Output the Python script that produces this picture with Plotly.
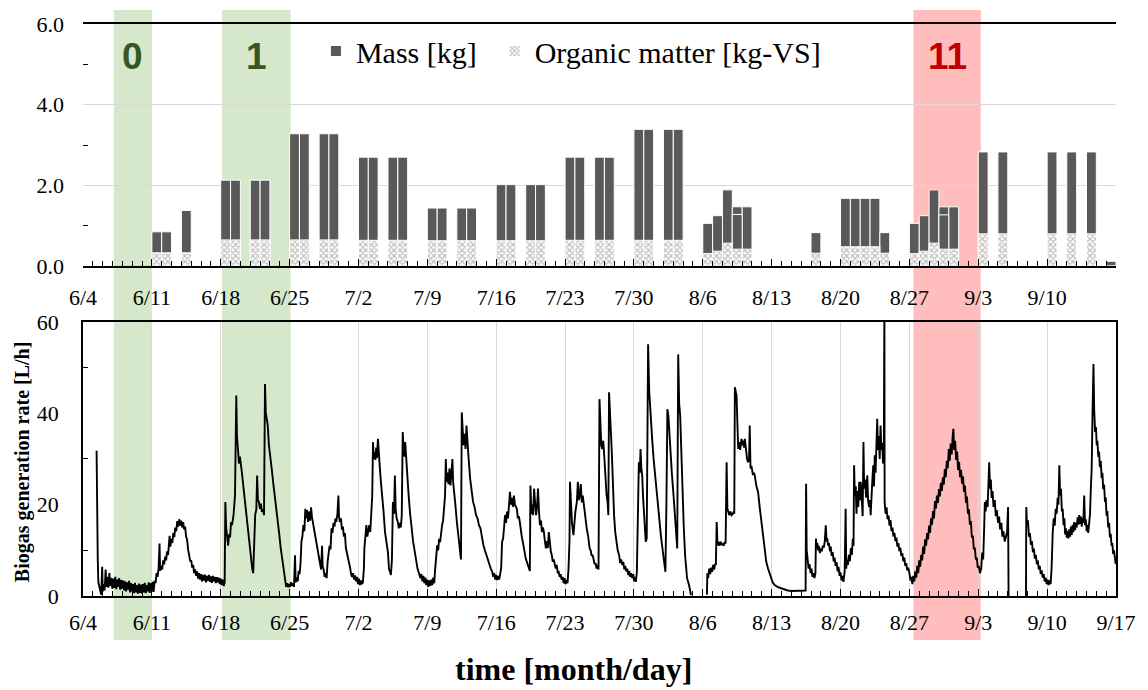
import pandas as pd
import plotly.graph_objects as go

YEAR = 2019
START = pd.Timestamp(f"{YEAR}-06-04")
END = pd.Timestamp(f"{YEAR}-09-17")
DAY_MS = 86400000

# ---------------- tick labels ----------------
week_labels = ["6/4", "6/11", "6/18", "6/25", "7/2", "7/9", "7/16", "7/23",
               "7/30", "8/6", "8/13", "8/20", "8/27", "9/3", "9/10", "9/17"]

# ---------------- top panel: feedstock per day ----------------
feed_dates = ["6/11", "6/12", "6/14", "6/18", "6/19", "6/21", "6/22", "6/25", "6/26",
              "6/28", "6/29", "7/2", "7/3", "7/5", "7/6", "7/9", "7/10", "7/12", "7/13",
              "7/16", "7/17", "7/19", "7/20", "7/23", "7/24", "7/26", "7/27", "7/30",
              "7/31", "8/2", "8/3", "8/6", "8/7", "8/8", "8/9", "8/10", "8/17", "8/20",
              "8/21", "8/22", "8/23", "8/24", "8/27", "8/28", "8/29", "8/30", "8/31",
              "9/3", "9/5", "9/10", "9/12", "9/14", "9/16"]
mass_kg = [0.85, 0.85, 1.38, 2.13, 2.13, 2.13, 2.13, 3.28, 3.28,
           3.28, 3.28, 2.70, 2.70, 2.70, 2.70, 1.44, 1.44, 1.44, 1.44,
           2.02, 2.02, 2.02, 2.02, 2.70, 2.70, 2.70, 2.70, 3.39,
           3.39, 3.39, 3.39, 1.06, 1.25, 1.89, 1.47, 1.47, 0.83, 1.68,
           1.68, 1.68, 1.68, 0.83, 1.06, 1.25, 1.89, 1.47, 1.47,
           2.83, 2.83, 2.83, 2.83, 2.83, 0.12]
organic_kg_vs = [0.33, 0.33, 0.33, 0.65, 0.65, 0.65, 0.65, 0.65, 0.65,
                 0.65, 0.65, 0.64, 0.64, 0.64, 0.64, 0.63, 0.63, 0.63, 0.63,
                 0.63, 0.63, 0.63, 0.63, 0.64, 0.64, 0.64, 0.64, 0.64,
                 0.64, 0.64, 0.64, 0.31, 0.37, 0.57, 0.42, 0.42, 0.32, 0.48,
                 0.48, 0.48, 0.48, 0.32, 0.31, 0.37, 0.57, 0.42, 0.42,
                 0.80, 0.80, 0.80, 0.80, 0.80, 0.0]
# second feeding portion drawn inside two of the bars
split_dates = ["8/9", "8/30"]
split_mass_kg = [1.28, 1.27]

# ---------------- highlighted periods ----------------
band_start = ["6/7 03:00", "6/18 03:00", "8/27 10:00"]
band_end = ["6/11 00:00", "6/25 02:30", "9/3 06:00"]
band_label = ["0", "1", "11"]
band_fill = ["#d5e8cb", "#d5e8cb", "#ffbdbd"]
band_text_color = ["#375623", "#375623", "#c00000"]

# ---------------- bottom panel: biogas rate (day offset from 6/4, L/h) ----------------
rate_jun = [
    (1.38, 31.8), (1.42, 20.0), (1.50, 8.0), (1.56, 3.0), (1.65, 2.2), (1.75, 0.8), (1.85, 0.3),
    (1.95, 6.4), (2.00, 1.0), (2.10, 2.6), (2.20, 1.2), (2.30, 5.8), (2.38, 2.0), (2.48, 4.2),
    (2.58, 1.8), (2.68, 5.0), (2.78, 2.2), (2.88, 4.0), (2.98, 1.6), (3.08, 3.8), (3.18, 1.8),
    (3.28, 4.2), (3.38, 1.5), (3.48, 3.6), (3.58, 2.0), (3.68, 3.9), (3.78, 1.4), (3.88, 3.5),
    (3.98, 1.6), (4.08, 3.4), (4.18, 1.2), (4.28, 3.2), (4.38, 1.0), (4.48, 3.0), (4.58, 1.4),
    (4.68, 3.3), (4.78, 0.8), (4.88, 2.8), (4.98, 1.0), (5.08, 2.6), (5.18, 0.6), (5.28, 2.9),
    (5.38, 0.8), (5.48, 2.4), (5.58, 0.5), (5.68, 2.7), (5.78, 0.7), (5.88, 2.5), (5.98, 0.5),
    (6.08, 2.6), (6.18, 0.8), (6.28, 2.9), (6.38, 0.6), (6.48, 2.4), (6.58, 1.0), (6.68, 3.0),
    (6.78, 0.7), (6.88, 2.8), (6.98, 1.0), (7.08, 3.1), (7.18, 0.9), (7.28, 3.4), (7.38, 2.8),
    (7.48, 5.0), (7.58, 4.2), (7.68, 6.0), (7.78, 11.5), (7.84, 5.5), (7.95, 6.6), (8.05, 5.8),
    (8.15, 7.8), (8.25, 6.9), (8.35, 8.6), (8.45, 7.8), (8.55, 9.8), (8.65, 9.0), (8.75, 11.2),
    (8.80, 13.2), (8.88, 10.8), (8.98, 12.5), (9.08, 11.6), (9.18, 13.8), (9.28, 12.9),
    (9.38, 15.0), (9.48, 14.2), (9.58, 16.4), (9.68, 15.2), (9.78, 16.8), (9.88, 15.4),
    (9.98, 16.5), (10.08, 15.0), (10.18, 16.2), (10.28, 14.6), (10.38, 15.2), (10.48, 13.0),
    (10.58, 12.4), (10.68, 10.2), (10.80, 9.0), (10.90, 7.6), (11.00, 7.8), (11.10, 6.2),
    (11.20, 6.8), (11.30, 5.0), (11.40, 5.8), (11.50, 4.4), (11.60, 5.4), (11.70, 3.8),
    (11.80, 5.0), (11.90, 3.6), (12.00, 4.8), (12.10, 3.2), (12.20, 4.6), (12.30, 3.4),
    (12.40, 4.7), (12.50, 3.0), (12.60, 4.4), (12.70, 3.3), (12.80, 4.6), (12.90, 3.1),
    (13.00, 4.3), (13.10, 2.9), (13.20, 4.4), (13.30, 3.2), (13.40, 4.2), (13.50, 2.8),
    (13.60, 4.1), (13.70, 3.0), (13.80, 4.0), (13.90, 2.6), (14.00, 3.8), (14.10, 2.4),
    (14.20, 3.6), (14.30, 2.2), (14.40, 3.0), (14.47, 20.6), (14.55, 15.0), (14.65, 12.0),
    (14.75, 11.0), (14.85, 13.5), (14.95, 12.8), (15.05, 16.2), (15.15, 15.5), (15.30, 17.7),
    (15.45, 22.0), (15.58, 43.9), (15.65, 35.0), (15.75, 32.2), (15.85, 29.0), (15.95, 30.5),
    (16.05, 28.0), (16.15, 27.0), (16.30, 24.0), (16.45, 21.0), (16.60, 17.0), (16.75, 13.5),
    (16.90, 11.5), (17.05, 8.5), (17.20, 6.0), (17.30, 5.0), (17.40, 12.0), (17.50, 17.7),
    (17.62, 19.0), (17.70, 26.4), (17.78, 21.0), (17.88, 20.6), (17.98, 19.1), (18.08, 20.2),
    (18.18, 18.4), (18.30, 19.0), (18.40, 17.7), (18.50, 46.4), (18.58, 40.2), (18.68, 38.0),
    (18.78, 37.3), (18.90, 33.0), (19.05, 30.8), (19.20, 27.5), (19.35, 24.5), (19.50, 22.0),
    (19.65, 19.0), (19.80, 16.2), (19.95, 13.5), (20.10, 10.4), (20.25, 8.0), (20.40, 5.0),
    (20.55, 3.1), (20.65, 2.0), (20.75, 2.8), (20.85, 1.9), (20.95, 2.6), (21.05, 2.0),
    (21.15, 3.0), (21.25, 2.2), (21.35, 2.8), (21.45, 2.0), (21.55, 8.9), (21.62, 3.0),
    (21.72, 4.0), (21.82, 3.2), (21.92, 5.5), (22.02, 4.8), (22.12, 7.5), (22.20, 11.9),
    (22.30, 13.0), (22.40, 15.5), (22.50, 14.2), (22.60, 19.1), (22.68, 17.0), (22.78, 18.8),
    (22.88, 16.2), (22.98, 18.5), (23.08, 16.5), (23.18, 19.4), (23.28, 17.2), (23.38, 16.0),
    (23.50, 14.0), (23.60, 12.8), (23.70, 12.5), (23.80, 10.4), (23.90, 9.5), (24.00, 8.0),
    (24.10, 6.8), (24.20, 5.8), (24.30, 11.0), (24.36, 6.5), (24.46, 5.8), (24.56, 4.2),
    (24.66, 5.0), (24.76, 3.9), (24.86, 7.4), (24.96, 9.0), (25.06, 11.0), (25.16, 10.2),
    (25.26, 14.8), (25.36, 13.8), (25.46, 16.0), (25.56, 15.2), (25.66, 17.0), (25.76, 16.2),
    (25.86, 18.0), (25.96, 22.0), (26.02, 17.5), (26.12, 16.2), (26.22, 17.0), (26.32, 14.5),
    (26.42, 15.2), (26.52, 13.0), (26.62, 13.8), (26.72, 10.5), (26.82, 9.6), (26.95, 7.8),
    (27.05, 7.2), (27.15, 6.2), (27.25, 4.8), (27.35, 4.2), (27.45, 5.0), (27.55, 3.6),
    (27.65, 4.5), (27.75, 3.2), (27.85, 4.2), (27.95, 2.6), (28.05, 3.8), (28.15, 2.4),
    (28.25, 3.4), (28.35, 2.6),
]
rate_jul = [
    (28.45, 3.0), (28.55, 6.0), (28.60, 10.4), (28.70, 12.5), (28.80, 15.5), (28.90, 13.0),
    (29.00, 14.5), (29.10, 15.5), (29.20, 14.0), (29.30, 18.4), (29.40, 22.0), (29.48, 33.7),
    (29.55, 30.0), (29.65, 31.5), (29.72, 29.8), (29.80, 32.5), (29.88, 30.2), (29.98, 34.4),
    (30.08, 30.0), (30.18, 27.9), (30.28, 25.0), (30.40, 22.5), (30.55, 18.5), (30.70, 14.0),
    (30.85, 11.5), (31.00, 9.5), (31.10, 6.0), (31.30, 4.6), (31.40, 8.0), (31.50, 20.6),
    (31.62, 18.0), (31.70, 26.4), (31.78, 19.1), (31.88, 17.0), (32.00, 16.2), (32.10, 14.8),
    (32.20, 16.0), (32.30, 15.0), (32.40, 17.5), (32.50, 35.9), (32.58, 32.2), (32.68, 30.5),
    (32.75, 33.7), (32.85, 30.0), (32.95, 27.9), (33.10, 22.0), (33.25, 18.0), (33.40, 14.5),
    (33.55, 12.0), (33.70, 10.0), (33.85, 7.5), (34.00, 6.0), (34.15, 5.0), (34.30, 3.9),
    (34.40, 4.8), (34.50, 3.2), (34.60, 4.4), (34.70, 2.8), (34.80, 4.0), (34.90, 2.4),
    (35.00, 3.6), (35.10, 2.0), (35.20, 3.4), (35.30, 2.2), (35.40, 3.6), (35.50, 2.4),
    (35.60, 4.0), (35.70, 2.8), (35.80, 6.0), (35.90, 8.9), (36.00, 11.1), (36.10, 10.0),
    (36.20, 12.5), (36.30, 11.8), (36.40, 14.0), (36.50, 15.5), (36.60, 16.5), (36.70, 19.1),
    (36.80, 22.0), (36.88, 30.0), (36.95, 25.0), (37.05, 27.0), (37.15, 24.5), (37.25, 27.9),
    (37.35, 24.2), (37.45, 27.0), (37.55, 30.0), (37.62, 25.0), (37.72, 22.0), (37.85, 20.0),
    (38.00, 16.2), (38.15, 13.3), (38.30, 9.7), (38.42, 8.0), (38.50, 40.2), (38.58, 35.9),
    (38.68, 33.0), (38.78, 35.5), (38.88, 32.2), (38.98, 37.3), (39.08, 33.0), (39.20, 30.0),
    (39.35, 25.7), (39.50, 23.0), (39.65, 20.6), (39.80, 19.5), (39.95, 17.7), (40.10, 17.0),
    (40.25, 15.5), (40.40, 14.8), (40.55, 12.5), (40.70, 11.1), (40.85, 10.0), (41.00, 8.9),
    (41.15, 8.0), (41.30, 6.8), (41.45, 6.0), (41.60, 5.3), (41.70, 4.2), (41.80, 5.0),
    (41.90, 3.6), (42.00, 4.6), (42.10, 3.5), (42.20, 4.4), (42.30, 3.6), (42.40, 4.8),
    (42.50, 6.0), (42.60, 11.9), (42.70, 12.5), (42.80, 15.0), (42.90, 17.7), (43.00, 16.0),
    (43.10, 18.5), (43.20, 17.0), (43.30, 19.1), (43.40, 22.8), (43.50, 20.0), (43.60, 21.5),
    (43.70, 19.5), (43.80, 22.0), (43.90, 20.0), (44.00, 19.5), (44.10, 19.1), (44.20, 17.0),
    (44.30, 17.5), (44.40, 16.2), (44.50, 14.0), (44.60, 13.0), (44.70, 11.9), (44.80, 10.0),
    (44.90, 9.5), (45.00, 8.2), (45.10, 7.5), (45.20, 6.8), (45.30, 6.0), (45.42, 5.5),
    (45.48, 24.2), (45.58, 18.0), (45.68, 20.0), (45.75, 17.7), (45.85, 23.5), (45.95, 19.0),
    (46.05, 17.7), (46.15, 19.5), (46.25, 23.5), (46.35, 18.5), (46.45, 15.5), (46.55, 16.5),
    (46.65, 14.0), (46.75, 15.0), (46.85, 14.0), (46.95, 12.0), (47.05, 10.4), (47.15, 12.0),
    (47.25, 10.5), (47.35, 14.0), (47.45, 11.5), (47.55, 9.8), (47.65, 9.0), (47.75, 7.5),
    (47.85, 8.0), (47.95, 6.5), (48.05, 6.0), (48.15, 6.8), (48.25, 5.2), (48.35, 5.3),
    (48.45, 4.2), (48.55, 4.8), (48.65, 3.6), (48.75, 4.2), (48.85, 2.8), (48.95, 3.9),
    (49.05, 2.6), (49.15, 3.5), (49.25, 2.8), (49.35, 6.0), (49.45, 12.0), (49.50, 25.0),
    (49.60, 20.6), (49.70, 16.0), (49.85, 13.3), (49.95, 16.0), (50.05, 18.5), (50.20, 20.6),
    (50.30, 25.0), (50.40, 21.0), (50.50, 22.0), (50.60, 24.5), (50.70, 20.5), (50.80, 22.0),
    (50.90, 20.0), (51.00, 18.0), (51.10, 17.0), (51.20, 14.8), (51.35, 13.0), (51.50, 10.4),
    (51.60, 10.0), (51.70, 8.8), (51.80, 9.0), (51.90, 8.2), (52.00, 7.0), (52.10, 7.2),
    (52.20, 6.0), (52.30, 6.8), (52.40, 5.8), (52.50, 43.1), (52.58, 36.0), (52.68, 33.0),
    (52.78, 32.2), (52.88, 34.0), (52.98, 30.8),
]
rate_aug = [
    (53.10, 25.0), (53.22, 22.0), (53.32, 20.6), (53.40, 17.7), (53.47, 44.6), (53.60, 39.5),
    (53.72, 33.0), (53.80, 28.6), (53.90, 22.0), (53.98, 17.7), (54.10, 14.0), (54.20, 11.9),
    (54.35, 10.0), (54.50, 8.9), (54.60, 7.2), (54.70, 8.0), (54.82, 6.8), (54.92, 7.5),
    (55.02, 5.8), (55.12, 6.6), (55.22, 5.4), (55.32, 6.0), (55.42, 4.6), (55.52, 5.5),
    (55.62, 4.2), (55.72, 5.0), (55.82, 3.9), (55.92, 4.8), (56.02, 3.2), (56.12, 4.2),
    (56.20, 3.1), (56.30, 5.3), (56.40, 18.0), (56.50, 29.3), (56.60, 27.0), (56.67, 32.2),
    (56.75, 28.0), (56.84, 26.4), (56.92, 22.0), (57.00, 19.1), (57.10, 15.0), (57.20, 11.9),
    (57.30, 12.6), (57.38, 30.0), (57.44, 55.1), (57.55, 45.0), (57.68, 39.5), (57.85, 34.4),
    (58.00, 30.0), (58.20, 25.0), (58.40, 20.0), (58.55, 17.7), (58.75, 13.0), (58.90, 10.4),
    (59.05, 7.5), (59.20, 5.3), (59.30, 20.0), (59.40, 40.9), (59.50, 39.5), (59.60, 35.0),
    (59.70, 32.2), (59.85, 27.0), (60.00, 22.8), (60.15, 18.0), (60.30, 13.0), (60.40, 10.4),
    (60.50, 52.9), (60.60, 42.0), (60.70, 39.5), (60.80, 32.0), (60.90, 25.0), (61.00, 19.0),
    (61.06, 15.5), (61.20, 8.9), (61.40, 3.9), (61.60, 2.4), (61.80, 0.2),
    (62.60, None),
    (63.42, 0.3), (63.46, 5.0), (63.55, 3.9), (63.65, 6.0), (63.75, 4.8), (63.85, 6.2),
    (63.95, 5.3), (64.05, 6.8), (64.15, 5.8), (64.25, 7.0), (64.33, 6.8), (64.41, 16.2),
    (64.50, 11.1), (64.60, 11.8), (64.70, 11.0), (64.80, 11.9), (64.92, 11.2), (65.02, 11.5),
    (65.12, 11.0), (65.22, 11.8), (65.32, 11.5), (65.42, 29.3), (65.50, 19.1), (65.59, 18.4),
    (65.70, 17.7), (65.80, 18.5), (65.93, 17.7), (66.05, 18.0), (66.15, 18.5), (66.20, 18.0),
    (66.26, 45.7), (66.43, 43.9), (66.52, 36.0), (66.60, 32.2), (66.70, 33.7), (66.80, 32.0),
    (66.93, 34.4), (67.03, 33.0), (67.13, 34.0), (67.20, 32.5), (67.27, 34.4), (67.40, 31.0),
    (67.50, 30.0), (67.60, 29.3), (67.70, 30.0), (67.77, 37.3), (67.85, 27.9), (67.94, 28.5),
    (68.10, 26.5), (68.20, 27.0), (68.28, 26.4), (68.45, 24.0), (68.62, 22.8), (68.78, 19.5),
    (68.95, 16.2), (69.10, 13.0), (69.29, 9.7), (69.45, 7.5), (69.63, 6.0), (69.80, 4.8),
    (69.96, 3.9), (70.10, 3.0), (70.30, 2.4), (70.60, 2.0), (70.97, 1.7), (71.30, 1.4),
    (71.65, 1.2), (72.00, 1.1), (72.50, 1.1), (73.00, 1.1), (73.45, 1.2),
    (73.50, 24.6), (73.56, 10.0), (73.65, 8.2), (73.75, 6.0), (73.85, 7.0), (73.95, 5.0),
    (74.05, 6.0), (74.15, 4.2), (74.25, 5.0), (74.35, 3.9), (74.45, 5.0), (74.50, 12.6),
    (74.56, 10.6), (74.64, 11.6), (74.72, 10.0), (74.80, 11.0), (74.90, 9.4), (75.00, 10.4),
    (75.10, 9.8), (75.20, 11.0), (75.30, 10.6), (75.40, 12.0), (75.50, 15.5), (75.58, 12.0),
    (75.65, 12.6), (75.74, 11.0), (75.83, 11.6), (75.92, 9.8), (76.00, 10.8), (76.10, 8.8),
    (76.20, 9.6), (76.30, 7.6), (76.40, 8.4), (76.50, 6.6), (76.60, 7.4), (76.70, 5.4),
    (76.80, 6.4), (76.90, 4.4), (77.00, 5.2), (77.10, 3.4), (77.20, 4.4), (77.30, 3.1),
    (77.42, 5.5), (77.52, 19.1), (77.58, 6.0), (77.65, 8.0), (77.75, 6.8), (77.85, 9.0),
    (77.95, 7.6), (78.05, 10.5), (78.15, 9.0), (78.25, 12.5), (78.32, 11.0), (78.38, 28.6),
    (78.45, 22.0), (78.55, 24.0), (78.62, 18.0), (78.71, 23.0), (78.80, 19.5), (78.90, 25.0),
    (79.00, 21.0), (79.05, 25.0), (79.15, 19.0), (79.25, 17.5), (79.33, 33.7), (79.40, 23.5),
    (79.50, 25.5), (79.60, 21.5), (79.72, 26.4), (79.80, 21.0), (79.90, 19.5), (80.00, 21.0),
    (80.06, 17.7), (80.15, 20.5), (80.25, 26.0), (80.33, 28.6), (80.40, 24.0), (80.48, 30.8),
    (80.56, 27.0), (80.65, 33.0), (80.73, 38.8), (80.80, 32.0), (80.90, 35.0), (80.98, 30.0),
    (81.07, 37.3), (81.15, 32.0), (81.24, 33.5), (81.32, 29.0), (81.40, 31.0), (81.46, 65.0),
    (81.48, 20.6), (81.58, 18.0), (81.68, 19.4), (81.78, 16.8), (81.88, 17.6), (81.98, 15.4),
    (82.08, 16.6), (82.18, 14.2), (82.28, 15.0), (82.38, 13.0), (82.48, 13.8), (82.58, 12.0),
    (82.68, 12.8), (82.78, 10.8), (82.88, 11.6), (82.98, 9.8), (83.08, 10.6), (83.18, 8.8),
    (83.28, 9.4), (83.38, 7.6), (83.48, 8.4), (83.58, 6.6), (83.68, 7.2), (83.78, 5.6),
    (83.88, 6.2),
]
rate_sep = [
    (84.00, 5.0), (84.10, 3.4), (84.20, 4.2), (84.30, 2.6), (84.40, 4.4), (84.50, 3.2),
    (84.60, 5.4), (84.70, 4.0), (84.80, 6.6), (84.90, 5.0), (85.00, 7.8), (85.10, 6.4),
    (85.20, 9.0), (85.30, 7.8), (85.40, 10.8), (85.50, 9.2), (85.60, 12.4), (85.70, 11.0),
    (85.80, 13.8), (85.90, 12.4), (86.00, 15.4), (86.10, 13.8), (86.20, 17.0), (86.30, 15.6),
    (86.40, 18.6), (86.50, 17.0), (86.60, 20.8), (86.70, 19.2), (86.80, 22.0), (86.90, 20.4),
    (87.00, 23.4), (87.10, 21.8), (87.20, 24.8), (87.30, 23.0), (87.40, 26.0), (87.50, 24.4),
    (87.60, 27.8), (87.70, 26.0), (87.80, 29.6), (87.90, 28.0), (88.00, 32.2), (88.10, 29.6),
    (88.20, 33.4), (88.30, 31.0), (88.40, 35.0), (88.47, 36.6), (88.55, 32.0), (88.65, 34.0),
    (88.75, 29.8), (88.85, 31.6), (88.95, 27.6), (89.05, 29.4), (89.15, 26.0), (89.25, 27.6),
    (89.35, 24.6), (89.45, 26.2), (89.55, 22.8), (89.65, 24.2), (89.75, 20.4), (89.85, 21.8),
    (89.95, 18.0), (90.05, 19.0), (90.15, 15.6), (90.25, 16.4), (90.35, 12.8), (90.45, 13.2),
    (90.55, 10.2), (90.65, 10.6), (90.75, 8.0), (90.85, 8.4), (90.95, 6.2), (91.05, 6.6),
    (91.17, 5.0), (91.30, 6.0), (91.40, 9.5), (91.50, 8.0), (91.60, 15.0), (91.67, 20.6),
    (91.75, 18.5), (91.84, 21.0), (91.95, 19.5), (92.02, 24.0), (92.11, 29.3), (92.20, 23.5),
    (92.28, 25.5), (92.35, 21.5), (92.45, 23.0), (92.55, 19.5), (92.68, 21.0), (92.78, 17.5),
    (92.88, 18.8), (93.02, 16.0), (93.12, 17.4), (93.22, 14.6), (93.35, 16.0), (93.45, 13.0),
    (93.55, 14.2), (93.69, 11.9), (93.80, 13.2), (93.93, 14.0), (94.03, 19.5), (94.08, 0.0),
    (95.00, None),
    (95.85, 0.0), (95.88, 19.5), (95.95, 15.5), (96.05, 16.6), (96.15, 13.0), (96.25, 13.8),
    (96.35, 11.2), (96.45, 12.0), (96.55, 9.6), (96.65, 10.4), (96.75, 8.2), (96.85, 9.0),
    (96.95, 7.0), (97.05, 7.8), (97.15, 5.8), (97.25, 6.6), (97.35, 4.8), (97.45, 5.6),
    (97.55, 4.0), (97.65, 4.8), (97.75, 3.2), (97.85, 4.0), (97.95, 2.6), (98.05, 3.6),
    (98.15, 2.4), (98.25, 3.4), (98.35, 2.6), (98.45, 6.0), (98.57, 14.0), (98.67, 17.0),
    (98.77, 15.4), (98.87, 19.1), (98.97, 18.0), (99.07, 21.5), (99.15, 20.0), (99.24, 28.6),
    (99.32, 22.0), (99.41, 23.5), (99.50, 18.5), (99.58, 19.1), (99.67, 15.5), (99.75, 17.0),
    (99.83, 13.5), (99.91, 14.8), (100.00, 12.8), (100.08, 14.2), (100.17, 12.6), (100.25, 14.6),
    (100.34, 13.0), (100.42, 15.2), (100.50, 13.4), (100.59, 15.6), (100.67, 14.0), (100.75, 16.2),
    (100.84, 14.4), (100.92, 16.0), (101.00, 15.0), (101.10, 17.2), (101.18, 15.6), (101.26, 17.7),
    (101.35, 15.8), (101.45, 17.4), (101.52, 15.2), (101.60, 17.0), (101.68, 16.0), (101.77, 22.0),
    (101.85, 15.5), (101.93, 16.8), (102.02, 14.2), (102.10, 15.6), (102.18, 13.8), (102.27, 15.4),
    (102.36, 18.0), (102.44, 23.5), (102.53, 28.0), (102.61, 39.5), (102.71, 50.8), (102.78, 41.0),
    (102.88, 35.9), (102.96, 37.0), (103.04, 33.0), (103.11, 34.0), (103.20, 30.5), (103.28, 31.6),
    (103.36, 28.2), (103.45, 29.6), (103.54, 25.8), (103.62, 27.0), (103.70, 23.4), (103.79, 24.4),
    (103.88, 20.6), (103.95, 21.6), (104.04, 17.6), (104.12, 18.6), (104.21, 15.0), (104.30, 16.0),
    (104.38, 12.8), (104.46, 13.6), (104.55, 11.0), (104.62, 11.6), (104.71, 9.2), (104.80, 10.0),
    (104.88, 7.8), (104.97, 7.0),
]


def md(s):
    """'6/11' or '6/11 03:00' -> timestamp in YEAR"""
    parts = s.split(" ")
    m, d = parts[0].split("/")
    t = parts[1] if len(parts) > 1 else "00:00"
    return pd.Timestamp(f"{YEAR}-{int(m):02d}-{int(d):02d} {t}")


HALF_DAY = pd.Timedelta(hours=12)
bar_x = [md(s) + HALF_DAY for s in feed_dates]
split_x = [md(s) + HALF_DAY for s in split_dates]
week_x = [md(s) for s in week_labels]

rate_all = rate_jun + rate_jul + rate_aug + rate_sep
rate_x = [START + pd.Timedelta(days=d) for d, _ in rate_all]
rate_y = [v for _, v in rate_all]

SERIF = "Liberation Serif, Times New Roman, Times, serif"
SANS = "Liberation Sans"
GRID = "#d9d9d9"

fig = go.Figure()

fig.add_trace(go.Bar(
    x=bar_x, y=mass_kg, name="Mass [kg]", width=DAY_MS, legend="legend",
    marker=dict(color="#595959", line=dict(color="white", width=1)),
    xaxis="x", yaxis="y",
))
fig.add_trace(go.Bar(
    x=split_x, y=split_mass_kg, name="Mass split", width=DAY_MS, showlegend=False,
    marker=dict(color="#595959", line=dict(color="white", width=1)),
    xaxis="x", yaxis="y",
))
fig.add_trace(go.Bar(
    x=bar_x, y=organic_kg_vs, name="Organic matter [kg-VS]", width=DAY_MS, legend="legend2",
    marker=dict(color="white", line=dict(color="white", width=1),
                pattern=dict(shape="x", fgcolor="#7f7f7f", bgcolor="white",
                             size=4, solidity=0.55)),
    xaxis="x", yaxis="y",
))
fig.add_trace(go.Scatter(
    x=rate_x, y=rate_y, mode="lines", name="Biogas", showlegend=False,
    line=dict(color="black", width=1.9), connectgaps=False,
    xaxis="x2", yaxis="y2",
))

# highlighted periods across both panels
for s, e, lab, fill, tc in zip(band_start, band_end, band_label, band_fill, band_text_color):
    x0, x1 = md(s), md(e)
    fig.add_shape(type="rect", xref="x2", yref="paper", x0=x0, x1=x1,
                  y0=-0.077, y1=1.0245, fillcolor=fill, line=dict(width=0), layer="below")
    fig.add_annotation(x=x0 + (x1 - x0) / 2, xref="x2", y=0.944, yref="paper",
                       text=f"<b>{lab}</b>", showarrow=False,
                       font=dict(family=SANS, size=37, color=tc),
                       xanchor="center", yanchor="middle")

xcommon = dict(type="date", range=[START, END], tickmode="array", tickvals=week_x,
               ticktext=week_labels, ticks="inside", ticklen=7, tickcolor="black",
               tickwidth=1, showline=True, linecolor="black", linewidth=1.5,
               tickfont=dict(family=SERIF, size=22, color="black"),
               minor=dict(tickmode="linear", tick0=START, dtick=DAY_MS, ticks="inside",
                          ticklen=5, tickcolor="black", showgrid=False),
               zeroline=False)

legend_common = dict(orientation="h", y=0.953, xanchor="left", yanchor="middle",
                     font=dict(family=SERIF, size=30, color="black"),
                     bgcolor="rgba(0,0,0,0)", itemsizing="constant")

fig.update_layout(
    width=1148, height=690,
    margin=dict(l=83, r=23, t=22, b=94),
    paper_bgcolor="white", plot_bgcolor="rgba(0,0,0,0)",
    barmode="overlay",
    font=dict(family=SERIF, color="black"),
    legend=dict(**legend_common, x=0.2255),
    legend2=dict(**legend_common, x=0.3985),
    xaxis=dict(**{**xcommon, "tickvals": week_x[:-1], "ticktext": week_labels[:-1]},
               anchor="y", domain=[0, 1], mirror=True, showgrid=False,
               ticklabelstandoff=11),
    yaxis=dict(domain=[0.5767, 1], anchor="x", range=[0, 6], dtick=2, tick0=0,
               tickformat=".1f", showgrid=True, gridcolor=GRID, gridwidth=1,
               showline=False, zeroline=False, ticks="inside", ticklen=0,
               tickfont=dict(family=SERIF, size=22, color="black"),
               ticklabelstandoff=18,
               minor=dict(dtick=1, ticks="inside", ticklen=5, tickcolor="black",
                          showgrid=False)),
    xaxis2=dict(**xcommon, anchor="y2", domain=[0, 1], mirror=True, showgrid=True,
                gridcolor=GRID, gridwidth=1, ticklabelstandoff=6),
    yaxis2=dict(domain=[0, 0.4791], anchor="x2", range=[0, 60], dtick=20, tick0=0,
                showgrid=False, showline=True, linecolor="black", linewidth=1.5,
                mirror=True, zeroline=False, ticks="inside", ticklen=0,
                tickfont=dict(family=SERIF, size=22, color="black"),
                ticklabelstandoff=18,
                minor=dict(dtick=10, ticks="inside", ticklen=5, tickcolor="black",
                           showgrid=False)),
)

fig.add_annotation(text="<b>time [month/day]</b>", xref="paper", yref="paper",
                   x=0.475, y=-0.128, showarrow=False, xanchor="center", yanchor="middle",
                   font=dict(family=SERIF, size=32, color="black"))
fig.add_annotation(text="<b>Biogas generation rate [L/h]</b>", xref="paper", yref="paper",
                   x=-0.0585, y=0.235, showarrow=False, textangle=-90,
                   xanchor="center", yanchor="middle",
                   font=dict(family=SERIF, size=20, color="black"))

fig.write_html("out.html", config={"displayModeBar": False},
               post_script="document.body.style.margin='0px';document.body.style.overflow='hidden';")
